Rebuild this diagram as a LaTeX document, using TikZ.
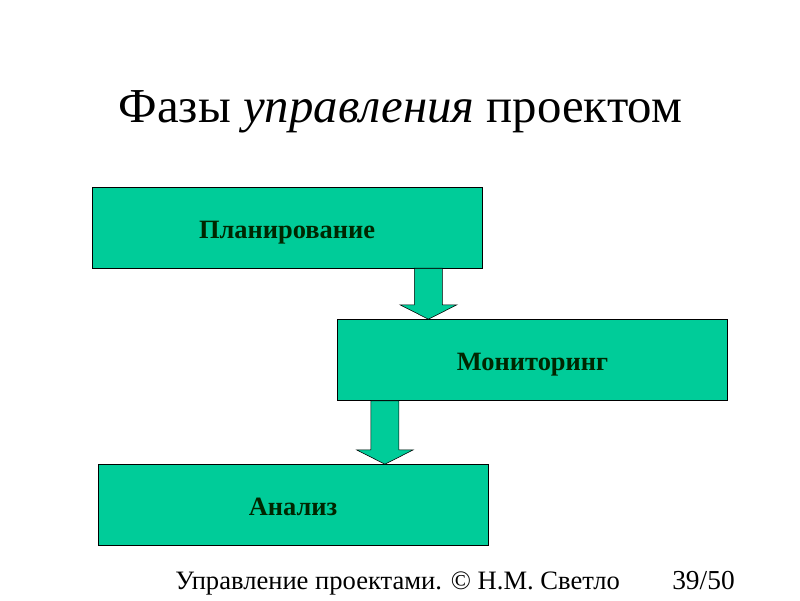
\documentclass[tikz,border=0pt]{standalone}
\usepackage{fontspec}
\setmainfont{Liberation Serif}
\usetikzlibrary{positioning, calc}
\definecolor{phasegreen}{RGB}{0,204,153}

\tikzset{
    phase/.style={draw=black, fill=phasegreen, rectangle, minimum width=9.75cm, minimum height=2.025cm, text height=15pt, text depth=0pt, font=\fontsize{18.8}{22}\selectfont\bfseries, text=black!85!green},
    phasearrow/.style={draw=black, fill=phasegreen, line join=miter}
}

% block arrow from #1 (top, shaft centre) down to #2 (tip)
\newcommand{\blockarrow}[2]{%
    \draw[phasearrow] ($(#1)+(-0.35,0)$) -- ($(#2)+(-0.35,0.36)$) -- ($(#2)+(-0.71,0.36)$) -- (#2)
        -- ($(#2)+(0.71,0.36)$) -- ($(#2)+(0.35,0.36)$) -- ($(#1)+(0.35,0)$) -- cycle;%
}

\begin{document}
\begin{tikzpicture}
        \useasboundingbox (0,0) rectangle (20,15);

        % Title
        \node[anchor=base, font=\fontsize{34.7}{40}\selectfont] (title) at (10.01,11.925) {Фазы \textit{управления} проектом};

        % Phases
        \node[phase] (plan) at (7.175, 9.3125) {Планирование};
        \node[phase] (mon) at (13.3125, 6.0) {Мониторинг};
        \node[phase] (ana) at (7.325, 2.375) {Анализ};

        % Arrows
        \coordinate (tip1) at ($(mon.north west)+(2.28,0)$);
        \coordinate (top1) at (tip1 |- plan.south);
        \coordinate (tip2) at ($(ana.north west)+(7.18,0)$);
        \coordinate (top2) at (tip2 |- mon.south);
        \blockarrow{top1}{tip1}
        \blockarrow{top2}{tip2}

        % Footer
        \node[anchor=base west, font=\fontsize{18.9}{22}\selectfont, inner sep=0] (foot) at (4.375,0.275) {Управление проектами. © Н.М. Светло};
        \node[anchor=base west, font=\fontsize{19.5}{22}\selectfont, inner sep=0] (page) at (16.8,0.275) {39/50};

\end{tikzpicture}
\end{document}
